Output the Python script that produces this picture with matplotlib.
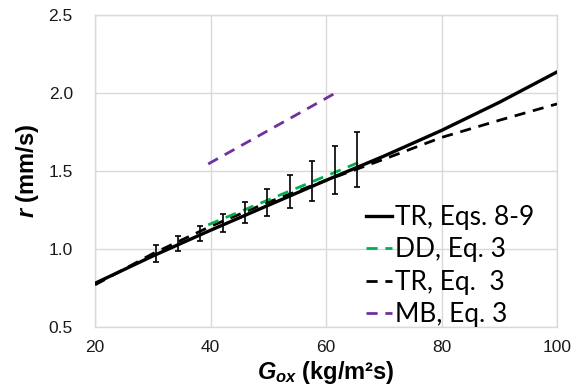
import numpy as np
import matplotlib
matplotlib.use("Agg")
import matplotlib.pyplot as plt

plt.rcParams['font.family'] = ['Liberation Sans', 'DejaVu Sans']
plt.rcParams['mathtext.fontset'] = 'custom'
plt.rcParams['mathtext.it'] = 'Liberation Sans:italic:bold'
plt.rcParams['mathtext.rm'] = 'Liberation Sans:bold'

# TR, Eqs. 8-9 (solid)
tr89_g = [20, 30, 40, 50, 60, 70, 80, 90, 100]
tr89_r = [0.78, 0.955, 1.12, 1.28, 1.44, 1.595, 1.76, 1.94, 2.135]

# DD, Eq. 3
dd_g = [39.6, 66.0]
dd_r = [1.155, 1.56]

# TR, Eq. 3 (dashed black)
tr3_g = [20, 30, 40, 50, 60, 70, 80, 90, 100]
tr3_r = [0.77, 0.97, 1.145, 1.30, 1.44, 1.575, 1.715, 1.825, 1.93]

# MB, Eq. 3
mb_g = [39.6, 61.4]
mb_r = [1.545, 1.995]

# measured points with error bars
exp_g = [30.5, 34.3, 38.2, 42.1, 46.0, 49.8, 53.7, 57.6, 61.5, 65.4]
exp_r = [0.97, 1.036, 1.10, 1.167, 1.234, 1.30, 1.367, 1.437, 1.507, 1.575]
exp_err = [0.056, 0.049, 0.048, 0.056, 0.069, 0.086, 0.107, 0.127, 0.153, 0.178]

W, H = 574, 392
fig = plt.figure(figsize=(W / 100, H / 100), dpi=100)
ax = fig.add_axes([95 / W, 65 / H, 462 / W, 312 / H])

dash = (4, 2.8)
ax.plot(tr89_g, tr89_r, color='black', lw=2.4, label='TR, Eqs. 8-9', zorder=3)
ax.plot(dd_g, dd_r, color='#00b050', lw=2.0, dashes=dash, label='DD, Eq. 3', zorder=4)
ax.plot(tr3_g, tr3_r, color='black', lw=2.0, dashes=dash, label='TR, Eq.  3', zorder=3)
ax.plot(mb_g, mb_r, color='#7030a0', lw=2.0, dashes=dash, label='MB, Eq. 3', zorder=3)
ax.errorbar(exp_g, exp_r, yerr=exp_err, fmt='none', ecolor='black',
            elinewidth=1.2, capsize=2.5, capthick=1.2, zorder=5)

ax.set_xlim(20, 100)
ax.set_ylim(0.5, 2.5)
ax.set_xticks([20, 40, 60, 80, 100])
ax.set_yticks([0.5, 1.0, 1.5, 2.0, 2.5])
ax.set_yticklabels(['0.5', '1.0', '1.5', '2.0', '2.5'])
ax.tick_params(length=0, labelsize=12.5, labelcolor='#1a1a1a')
ax.tick_params(axis='x', pad=9)
ax.tick_params(axis='y', pad=16)
ax.grid(True, color='#d9d9d9', lw=1.0)
ax.set_axisbelow(True)
for s in ax.spines.values():
    s.set_color('#d9d9d9')
    s.set_linewidth(1.0)

ax.set_xlabel(r'$G_{ox}$ (kg/m²s)', fontsize=17, fontweight='bold', labelpad=3)
ax.set_ylabel(r'$r$ (mm/s)', fontsize=17, fontweight='bold', labelpad=5)

leg = ax.legend(loc='upper left', bbox_to_anchor=(366 / W, 1 - 205 / H),
                bbox_transform=fig.transFigure, frameon=False,
                prop={'family': 'Lato', 'size': 19}, handlelength=1.0,
                handletextpad=0.1, labelspacing=0.28, borderpad=0, borderaxespad=0)

fig.savefig('out.png', dpi=100)
